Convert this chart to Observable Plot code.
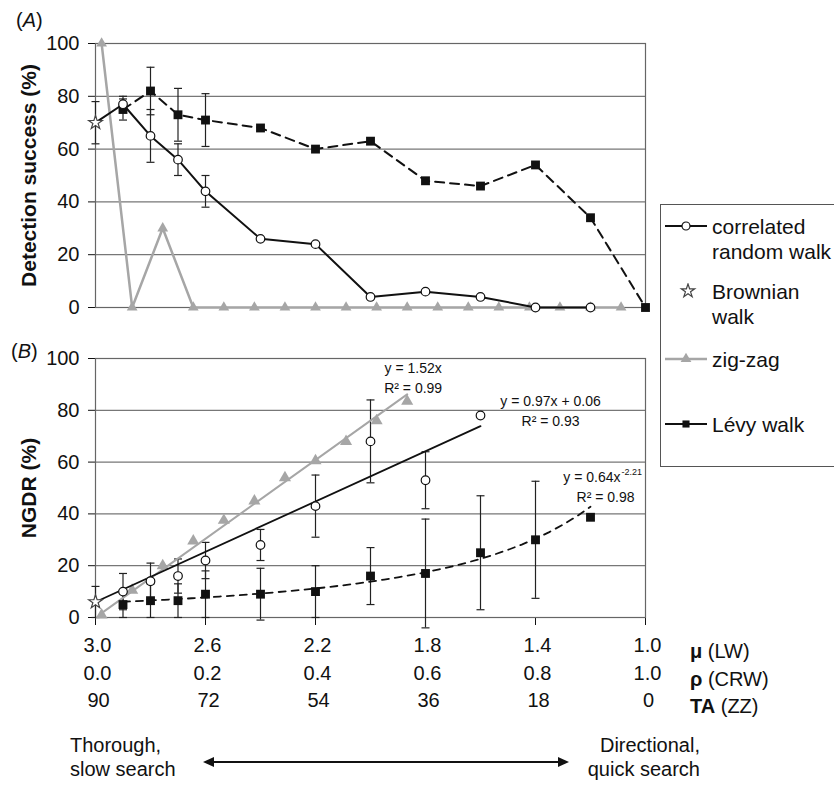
<!DOCTYPE html>
<html><head><meta charset="utf-8">
<script src="https://cdn.jsdelivr.net/npm/d3@7"></script>
<script src="https://cdn.jsdelivr.net/npm/@observablehq/plot@0.6"></script>
<style>
body{margin:0;background:#fff;overflow:hidden;font-family:"Liberation Sans",Arial,sans-serif;color:#111}
#wrap{position:relative;width:834px;height:790px;overflow:hidden}
.abs{position:absolute;white-space:nowrap}
#legend{position:absolute;left:660px;top:204px;width:200px;height:263px;border:1.5px solid #555;box-sizing:border-box;font-size:21px;line-height:25px}
#legend .t{position:absolute;left:51px}
#legend svg{position:absolute;left:4px}
.row{font-size:20px;line-height:24px}
</style></head><body><div id="wrap">
<div id="pA" class="abs" style="left:0;top:0"></div>
<div id="pB" class="abs" style="left:0;top:330px"></div>
<div class="abs" style="left:16px;top:9px;font-size:20px">(<i>A</i>)</div>
<div class="abs" style="left:11px;top:340px;font-size:20px">(<i>B</i>)</div>
<div id="legend"></div>
<div class="abs row" style="left:690px;top:639px"><b>μ</b> (LW)</div>
<div class="abs row" style="left:690px;top:667px"><b>ρ</b> (CRW)</div>
<div class="abs row" style="left:690px;top:694px"><b>TA</b> (ZZ)</div>
<div class="abs row" style="left:70px;top:733px">Thorough,<br>slow search</div>
<div class="abs row" style="right:134px;top:733px;text-align:right">Directional,<br>quick search</div>
<svg class="abs" style="left:200px;top:752px" width="372" height="20">
  <line x1="10" y1="10" x2="362" y2="10" stroke="#111" stroke-width="2"/>
  <polygon points="3,10 14,5 14,15" fill="#111"/>
  <polygon points="369,10 358,5 358,15" fill="#111"/>
</svg>
</div>
<script>
// ---------- DATA ----------
// shared tick values / labels
const yTicks = [0, 20, 40, 60, 80, 100];
const muTicks = [3.0, 2.6, 2.2, 1.8, 1.4, 1.0];
const muLabels = ["3.0", "2.6", "2.2", "1.8", "1.4", "1.0"];
const rhoLabels = ["0.0", "0.2", "0.4", "0.6", "0.8", "1.0"];
const taLabels = ["90", "72", "54", "36", "18", "0"];

// Panel A: detection success (%)
const crwMuA = [3.0, 2.9, 2.8, 2.7, 2.6, 2.4, 2.2, 2.0, 1.8, 1.6, 1.4, 1.2];
const crwA = [70, 77, 65, 56, 44, 26, 24, 4, 6, 4, 0, 0];
const crwErrA = [null, 3, 10, 6, 6, null, null, null, null, null, null, null];
const lwMuA = [2.9, 2.8, 2.7, 2.6, 2.4, 2.2, 2.0, 1.8, 1.6, 1.4, 1.2, 1.0];
const lwA = [75, 82, 73, 71, 68, 60, 63, 48, 46, 54, 34, 0];
const lwErrA = [4, 9, 10, 10, null, null, null, null, null, null, null, null];
const bwMuA = [3.0];
const bwA = [70];
const bwErrA = [8];
const zzTaA = [89, 84, 79, 74, 69, 64, 59, 54, 49, 44, 39, 34, 29, 24, 19, 14, 9, 4];
const zzA = [100, 0, 30, 0, 0, 0, 0, 0, 0, 0, 0, 0, 0, 0, 0, 0, 0, 0];

// Panel B: NGDR (%)
const crwMuB = [2.9, 2.8, 2.7, 2.6, 2.4, 2.2, 2.0, 1.8, 1.6];
const crwB = [10, 14, 16, 22, 28, 43, 68, 53, 78];
const crwErrB = [7, 7, 6.6, 7, 6, 12, 16, 11, null];
const lwMuB = [2.9, 2.8, 2.7, 2.6, 2.4, 2.2, 2.0, 1.8, 1.6, 1.4, 1.2];
const lwB = [5, 6.5, 6.5, 9, 9, 10, 16, 17, 25, 30, 38.7];
const lwErrB = [5, 6.5, 6.5, 9, 10, 10, 11, 21, 22, 22.6, null];
const bwMuB = [3.0];
const bwB = [6];
const bwErrB = [6];
const zzTaB = [89, 84, 79, 74, 69, 64, 59, 54, 49, 44, 39];
const zzB = [1, 10.5, 20, 29.5, 37.5, 45, 54, 60.5, 68, 76, 83.5];

// trend lines as printed on the chart
const trendZZ = [1.52];          // y = 1.52x   (x = (90-TA)/90)
const trendCRW = [0.97, 0.06];   // y = 0.97x + 0.06  (x = rho)
const trendLW = [0.64, -2.21];   // y = 0.64 x^-2.21  (x = mu)
const eqZZ = "y = 1.52x\nR² = 0.99";
const eqCRW = "y = 0.97x + 0.06\nR² = 0.93";
const eqLWmain = "y = 0.64x", eqLWsup = "-2.21", eqLWr2 = "R² = 0.98";

// ---------- HELPERS ----------
const rhoToMu = r => 3 - 2 * r;
const taToMu = t => 1 + t / 45;
const rows = (xs, ys, es) => xs.map((x, i) => ({x, y: ys[i], e: es ? es[i] : null}));
const capSymbol = {draw(ctx, size) { const w = Math.sqrt(size / Math.PI); ctx.moveTo(-w, 0); ctx.lineTo(w, 0); }};
function errMarks(data) {
  const r = data.filter(d => d.e != null);
  const caps = r.flatMap(d => [{x: d.x, y: d.y - d.e}, {x: d.x, y: d.y + d.e}]);
  return [
    Plot.ruleX(r, {x: "x", y1: d => d.y - d.e, y2: d => d.y + d.e, stroke: "#222", strokeWidth: 1.2}),
    Plot.dot(caps, {x: "x", y: "y", symbol: capSymbol, r: 4, fill: "none", stroke: "#222", strokeWidth: 1.2})
  ];
}
const FONT = '"Liberation Sans", Arial, sans-serif';
const base = (height, mt, mb) => ({
  width: 834, height, marginLeft: 95, marginRight: 189, marginTop: mt, marginBottom: mb,
  style: {fontFamily: FONT, fontSize: "20px", color: "#111", background: "transparent", overflow: "visible"}
});
const GRAY = "#a6a6a6";

// ---------- PANEL A ----------
const crwRA = rows(crwMuA, crwA, crwErrA);
const lwRA = rows(lwMuA, lwA, lwErrA);
const bwRA = rows(bwMuA, bwA, bwErrA);
const zzRA = rows(zzTaA.map(taToMu), zzA);

const plotA = Plot.plot({
  ...base(325, 43, 18),
  x: {domain: [3, 1], axis: null},
  y: {domain: [0, 100], ticks: yTicks, tickSize: 7, tickPadding: 9, label: null},
  marks: [
    Plot.ruleY(yTicks.slice(1), {stroke: "#777", strokeWidth: 1.2}),
    Plot.frame({stroke: "#666", strokeWidth: 1.2}),
    ...errMarks(crwRA), ...errMarks(lwRA), ...errMarks(bwRA),
    Plot.line(zzRA, {x: "x", y: "y", stroke: GRAY, strokeWidth: 2.5}),
    Plot.dot(zzRA, {x: "x", y: "y", symbol: "triangle", r: 4, fill: GRAY}),
    Plot.line(lwRA, {x: "x", y: "y", stroke: "#111", strokeWidth: 2, strokeDasharray: "9,6"}),
    Plot.line(crwRA, {x: "x", y: "y", stroke: "#111", strokeWidth: 2}),
    Plot.dot(lwRA, {x: "x", y: "y", symbol: "square", r: 5, fill: "#111"}),
    Plot.dot(crwRA.slice(1), {x: "x", y: "y", r: 4.3, fill: "#fff", stroke: "#111", strokeWidth: 1.2}),
    Plot.dot(bwRA, {x: "x", y: "y", symbol: "star", r: 4.3, fill: "#fff", stroke: "#444", strokeWidth: 1.2}),
    Plot.text(["Detection success (%)"], {frameAnchor: "left", rotate: -90, dx: -66, textAnchor: "middle", text: d => d, fontWeight: "bold", fontSize: 21})
  ]
});
document.getElementById("pA").appendChild(plotA);

// ---------- PANEL B ----------
const crwRB = rows(crwMuB, crwB, crwErrB);
const lwRB = rows(lwMuB, lwB, lwErrB);
const bwRB = rows(bwMuB, bwB, bwErrB);
const zzRB = rows(zzTaB.map(taToMu), zzB);

const zzTrendPts = [zzTaB[0], zzTaB[zzTaB.length - 1]].map(t => ({x: taToMu(t), y: 100 * trendZZ[0] * (90 - t) / 90}));
const crwTrendPts = [0, (3 - crwMuB[crwMuB.length - 1]) / 2].map(r => ({x: rhoToMu(r), y: 100 * (trendCRW[0] * r + trendCRW[1])}));
const lwTrendPts = d3.range(lwMuB[0], lwMuB[lwMuB.length - 1] - 1e-9, -0.05).map(m => ({x: m, y: 100 * trendLW[0] * Math.pow(m, trendLW[1])}));
const zzEnd = zzTrendPts[1], crwEnd = crwTrendPts[1], lwEnd = lwTrendPts[lwTrendPts.length - 1];

const plotB = Plot.plot({
  ...base(460, 28, 173),
  x: {domain: [3, 1], ticks: muTicks, tickSize: 8, tickFormat: () => "", label: null},
  y: {domain: [0, 100], ticks: yTicks, tickSize: 7, tickPadding: 9, label: null},
  marks: [
    Plot.ruleY(yTicks.slice(1), {stroke: "#777", strokeWidth: 1.2}),
    Plot.frame({stroke: "#666", strokeWidth: 1.2}),
    ...errMarks(crwRB), ...errMarks(lwRB), ...errMarks(bwRB),
    Plot.line(zzTrendPts, {x: "x", y: "y", stroke: GRAY, strokeWidth: 2}),
    Plot.dot(zzRB, {x: "x", y: "y", symbol: "triangle", r: 4.5, fill: GRAY}),
    Plot.line(crwTrendPts, {x: "x", y: "y", stroke: "#111", strokeWidth: 1.8}),
    Plot.line(lwTrendPts, {x: "x", y: "y", stroke: "#111", strokeWidth: 1.8, strokeDasharray: "7,6"}),
    Plot.dot(lwRB, {x: "x", y: "y", symbol: "square", r: 5, fill: "#111"}),
    Plot.dot(crwRB, {x: "x", y: "y", r: 4.3, fill: "#fff", stroke: "#111", strokeWidth: 1.2}),
    Plot.dot(bwRB, {x: "x", y: "y", symbol: "star", r: 4.3, fill: "#fff", stroke: "#444", strokeWidth: 1.2}),
    Plot.text([zzEnd], {x: "x", y: "y", text: () => eqZZ, dx: 6, dy: -18, fontSize: 14, lineHeight: 1.43, textAnchor: "middle"}),
    Plot.text([crwEnd], {x: "x", y: "y", text: () => eqCRW, dx: 70, dy: -17, fontSize: 14, lineHeight: 1.43, textAnchor: "middle"}),
    Plot.text([lwEnd], {x: "x", y: "y", text: () => eqLWmain, dx: 30, dy: -29, fontSize: 14, textAnchor: "end"}),
    Plot.text([lwEnd], {x: "x", y: "y", text: () => eqLWsup, dx: 31, dy: -35, fontSize: 9, textAnchor: "start"}),
    Plot.text([lwEnd], {x: "x", y: "y", text: () => eqLWr2, dx: 15, dy: -9, fontSize: 14, textAnchor: "middle"}),
    Plot.text(muTicks, {x: d => d, text: (d, i) => muLabels[i], frameAnchor: "bottom", dy: 34, dx: 2, fontSize: 20}),
    Plot.text(muTicks, {x: d => d, text: (d, i) => rhoLabels[i], frameAnchor: "bottom", dy: 62, dx: 2, fontSize: 20}),
    Plot.text(muTicks, {x: d => d, text: (d, i) => taLabels[i], frameAnchor: "bottom", dy: 89, dx: 3, fontSize: 20}),
    Plot.text(["NGDR (%)"], {frameAnchor: "left", rotate: -90, dx: -66, textAnchor: "middle", text: d => d, fontWeight: "bold", fontSize: 21})
  ]
});
document.getElementById("pB").appendChild(plotB);

// ---------- LEGEND ----------
const legendItems = [
  {label: "correlated<br>random walk", top: 8.5, swy: 21, kind: "crw"},
  {label: "Brownian<br>walk", top: 73.5, swy: 86, kind: "bw"},
  {label: "zig-zag", top: 141.5, swy: 154, kind: "zz"},
  {label: "Lévy walk", top: 206.5, swy: 219, kind: "lw"}
];
const leg = document.getElementById("legend");
const star = d3.symbol(d3.symbolStar, Math.PI * 18)();
const tri = d3.symbol(d3.symbolTriangle, Math.PI * 16)();
const sq = d3.symbol(d3.symbolSquare, Math.PI * 16)();
legendItems.forEach(it => {
  const t = document.createElement("div");
  t.className = "t"; t.style.top = it.top + "px"; t.innerHTML = it.label;
  leg.appendChild(t);
  let inner = "";
  if (it.kind === "crw") inner = `<line x1="0" y1="8" x2="42" y2="8" stroke="#111" stroke-width="2"/><circle cx="21" cy="8" r="4" fill="#fff" stroke="#111" stroke-width="1.2"/>`;
  if (it.kind === "bw") inner = `<path d="${star}" transform="translate(23,8)" fill="#fff" stroke="#444" stroke-width="1.2"/>`;
  if (it.kind === "zz") inner = `<line x1="0" y1="8" x2="42" y2="8" stroke="${GRAY}" stroke-width="2.5"/><path d="${tri}" transform="translate(21,8)" fill="${GRAY}"/>`;
  if (it.kind === "lw") inner = `<line x1="0" y1="8" x2="42" y2="8" stroke="#111" stroke-width="2"/><path d="${sq}" transform="translate(21,8)" fill="#111"/>`;
  const s = document.createElementNS("http://www.w3.org/2000/svg", "svg");
  s.setAttribute("width", 44); s.setAttribute("height", 16);
  s.style.top = (it.swy - 8) + "px";
  s.innerHTML = inner;
  leg.appendChild(s);
});
</script>
</body></html>
